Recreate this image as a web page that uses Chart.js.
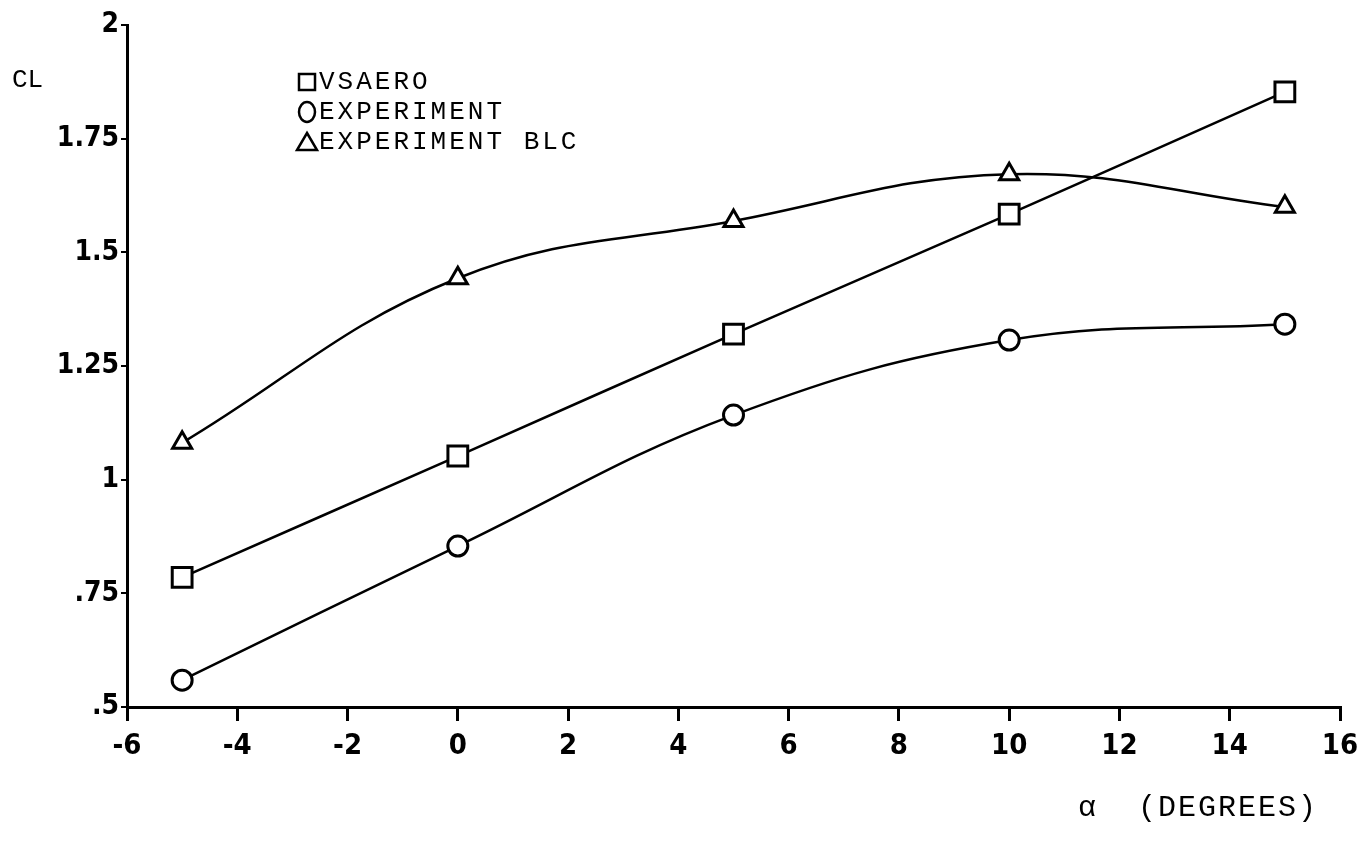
<!DOCTYPE html>
<html>
<head>
<meta charset="utf-8">
<script src="https://cdn.jsdelivr.net/npm/chart.js@4.4.1/dist/chart.umd.min.js"></script>
<style>
  body { margin: 0; background: #fff; }
  #chart { display: block; }
</style>
</head>
<body>
<canvas id="chart" width="1357" height="841"></canvas>
<script>
// values
const alpha = [-5, 0, 5, 10, 15];
const vsaero = [0.785, 1.052, 1.32, 1.584, 1.853];
const experiment = [0.559, 0.854, 1.142, 1.307, 1.342];
const experimentBlc = [1.081, 1.443, 1.569, 1.672, 1.6];

const xTicks = [-6, -4, -2, 0, 2, 4, 6, 8, 10, 12, 14, 16];
const yTicks = [0.5, 0.75, 1, 1.25, 1.5, 1.75, 2];
const yTickLabels = ['.5', '.75', '1', '1.25', '1.5', '1.75', '2'];

const seriesNames = ['VSAERO', 'EXPERIMENT', 'EXPERIMENT BLC'];
const seriesMarkers = ['rect', 'circle', 'triangle'];
const markerRadius = { rect: 14, circle: 10, triangle: 11 };

const CHART = document.getElementById('chart');
const tickFont = "'Liberation Sans Narrow', 'DejaVu Sans Condensed', sans-serif";
const typeFont = "'Liberation Mono', 'DejaVu Sans Mono', monospace";

function pts(ys) {
    return alpha.map((a, i) => ({ x: a, y: ys[i] }));
}

function makeSet(label, ys, marker) {
    return {
        label: label,
        data: pts(ys),
        borderColor: '#000',
        borderWidth: 2.5,
        backgroundColor: '#fff',
        pointStyle: marker,
        pointRadius: markerRadius[marker],
        pointBorderWidth: 3,
        pointBorderColor: '#000',
        pointBackgroundColor: '#fff',
        tension: 0.4,
        fill: false
    };
}

// legend, CL label and alpha label drawn in the paper's typewriter style
const extras = {
    id: 'extras',
    afterDraw(chart) {
        const ctx = chart.ctx;
        ctx.save();
        ctx.fillStyle = '#000';
        ctx.strokeStyle = '#000';
        ctx.textBaseline = 'middle';
        ctx.font = '26px ' + typeFont;
        ctx.fillText('CL', 12, 80);

        const lx = 307, ly = 82, gap = 30;
        seriesNames.forEach((name, i) => {
            const y = ly + i * gap;
            ctx.lineWidth = 2.5;
            ctx.beginPath();
            if (seriesMarkers[i] === 'rect') {
                ctx.rect(lx - 8, y - 8, 16, 16);
            } else if (seriesMarkers[i] === 'circle') {
                ctx.ellipse(lx, y, 8, 10, 0, 0, Math.PI * 2);
            } else {
                ctx.moveTo(lx, y - 9);
                ctx.lineTo(lx + 10, y + 8);
                ctx.lineTo(lx - 10, y + 8);
                ctx.closePath();
            }
            ctx.stroke();
            ctx.font = '26px ' + typeFont;
            ctx.letterSpacing = '3px';
            ctx.fillText(name, lx + 12, y);
            ctx.letterSpacing = '0px';
        });

        ctx.font = '30px ' + typeFont;
        ctx.fillText('\u03b1', 1078, 808);
        ctx.letterSpacing = '2px';
        ctx.fillText('(DEGREES)', 1138, 808);
        ctx.restore();
    }
};

const chart = new Chart(CHART, {
    type: 'line',
    data: {
        datasets: [
            makeSet(seriesNames[0], vsaero, 'rect'),
            makeSet(seriesNames[1], experiment, 'circle'),
            makeSet(seriesNames[2], experimentBlc, 'triangle')
        ]
    },
    plugins: [extras],
    options: {
        responsive: false,
        animation: false,
        layout: { padding: { top: 25, right: 13, bottom: 0, left: 0 } },
        plugins: {
            legend: { display: false },
            tooltip: { enabled: false }
        },
        scales: {
            x: {
                type: 'linear',
                min: -6,
                max: 16,
                afterBuildTicks: (s) => { s.ticks = xTicks.map(v => ({ value: v })); },
                afterFit: (s) => { s.height = 134; s.paddingRight = 0; s.paddingLeft = 0; },
                border: { color: '#000', width: 3 },
                grid: { drawOnChartArea: false, color: '#000', lineWidth: 3, tickLength: 14 },
                ticks: {
                    color: '#000',
                    padding: 8,
                    font: { family: tickFont, size: 29, weight: 'bold' },
                    maxRotation: 0
                }
            },
            y: {
                type: 'linear',
                min: 0.5,
                max: 2,
                afterBuildTicks: (s) => { s.ticks = yTicks.map(v => ({ value: v })); },
                afterFit: (s) => { s.width = 127; },
                border: { color: '#000', width: 3 },
                grid: { drawOnChartArea: false, color: '#000', lineWidth: 2, tickLength: 6 },
                ticks: {
                    color: '#000',
                    padding: 2,
                    font: { family: tickFont, size: 28, weight: 'bold' },
                    callback: (v) => yTickLabels[yTicks.indexOf(v)]
                }
            }
        }
    }
});
</script>
</body>
</html>
